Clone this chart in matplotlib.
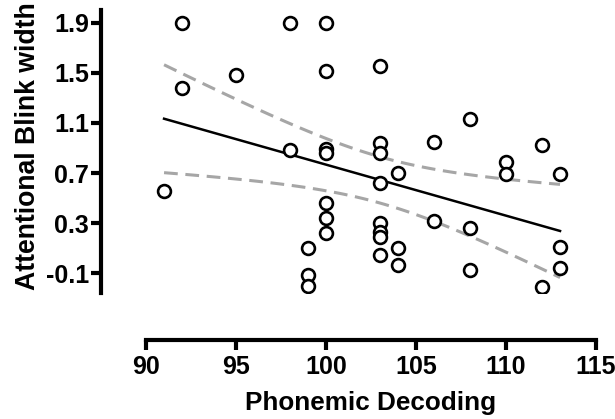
import numpy as np
import matplotlib.pyplot as plt

plt.rcParams['font.family'] = ['Liberation Sans', 'DejaVu Sans']
plt.rcParams['font.weight'] = 'bold'

# phonemic decoding score vs attentional blink width
decoding = [91,
            92, 92,
            95,
            98, 98,
            99, 99, 99,
            100, 100, 100, 100, 100, 100, 100,
            103, 103, 103, 103, 103, 103, 103, 103,
            104, 104, 104,
            106, 106,
            108, 108, 108,
            110, 110,
            112, 112,
            113, 113, 113]
ab_width = [0.56,
            1.90, 1.38,
            1.48,
            1.90, 0.88,
            0.10, -0.11, -0.20,
            1.90, 1.51, 0.89, 0.86, 0.46, 0.34, 0.22,
            1.55, 0.94, 0.86, 0.62, 0.30, 0.23, 0.19, 0.05,
            0.70, 0.10, -0.03,
            0.95, 0.32,
            1.13, 0.26, -0.07,
            0.79, 0.69,
            0.92, -0.21,
            0.69, 0.11, -0.06]

x_ticks = [90, 95, 100, 105, 110, 115]
y_ticks = [-0.1, 0.3, 0.7, 1.1, 1.5, 1.9]
y_tick_labels = ['-0.1', '0.3', '0.7', '1.1', '1.5', '1.9']

x = np.array(decoding, dtype=float)
y = np.array(ab_width)

# linear fit + 95% confidence band
slope, intercept = np.polyfit(x, y, 1)
n = len(x)
resid = y - (slope * x + intercept)
s = np.sqrt(np.sum(resid ** 2) / (n - 2))
t_crit = 2.026  # t(0.975, df=37)
xs = np.linspace(x.min(), x.max(), 100)
fit = slope * xs + intercept
half = t_crit * s * np.sqrt(1 / n + (xs - x.mean()) ** 2 / np.sum((x - x.mean()) ** 2))

fig = plt.figure(figsize=(6.15, 4.19), dpi=100)
ax = fig.add_axes([100.7 / 615, 1 - 293 / 419, 499.3 / 615, 283 / 419])

ax.plot(xs, fit, color='black', lw=1.8, zorder=2)
ax.plot(xs, fit + half, color='#a6a6a6', lw=2.2, dashes=(4.5, 2.5), zorder=1)
ax.plot(xs, fit - half, color='#a6a6a6', lw=2.2, dashes=(4.5, 2.5), zorder=1)
ax.scatter(x, y, s=85, facecolors='white', edgecolors='black', linewidths=1.9, zorder=3)

ax.set_xlim(87.48, 115.22)
ax.set_ylim(-0.257, 2.0)

for side in ['top', 'right']:
    ax.spines[side].set_visible(False)
ax.spines['left'].set_linewidth(3)
ax.spines['bottom'].set_linewidth(3)
ax.spines['bottom'].set_position(('outward', 33.8))
ax.spines['bottom'].set_bounds(90, 115)

ax.set_xticks(x_ticks)
ax.set_yticks(y_ticks)
ax.set_yticklabels(y_tick_labels)
ax.tick_params(axis='both', width=3, length=7, labelsize=18, pad=1.5, direction='out')
ax.tick_params(axis='x', pad=4)

ax.set_xlabel('Phonemic Decoding', fontsize=18.8, fontweight='bold')
ax.xaxis.set_label_coords((371 - 100.7) / 499.3, -0.345)
ax.set_ylabel('Attentional Blink width', fontsize=19.2, fontweight='bold')
ax.yaxis.set_label_coords(-0.12, 0.52)

fig.savefig('out.png', dpi=100)
